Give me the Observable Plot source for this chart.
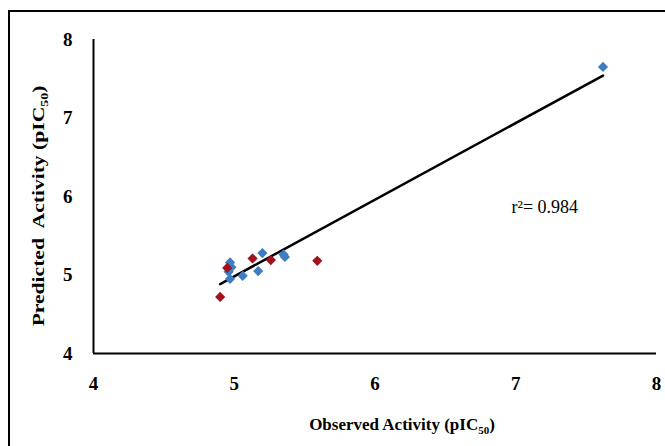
<!DOCTYPE html>
<html>
<head>
<meta charset="utf-8">
<script src="https://cdn.jsdelivr.net/npm/d3@7"></script>
<script src="https://cdn.jsdelivr.net/npm/@observablehq/plot@0.6"></script>
<style>
  html, body { margin: 0; padding: 0; background: #fff; }
  #wrap { position: relative; width: 665px; height: 446px; overflow: hidden; }
  #frame { position: absolute; left: 8px; top: 10px; width: 700px; height: 500px;
           border-left: 2px solid #000; border-top: 2px solid #000; box-sizing: border-box; }
  #chart { position: absolute; left: 0; top: 0; }
</style>
</head>
<body>
<div id="wrap"><div id="frame"></div><div id="chart"></div></div>
<script>
// Training set (blue)
const trainObserved  = [4.97, 4.96, 4.97, 4.98, 5.06, 5.20, 5.17, 5.35, 5.36, 7.62];
const trainPredicted = [5.16, 5.04, 4.95, 5.10, 4.99, 5.28, 5.05, 5.26, 5.23, 7.65];
// Test set (red)
const testObserved   = [4.90, 4.95, 5.13, 5.26, 5.59];
const testPredicted  = [4.72, 5.09, 5.21, 5.19, 5.18];
// Axis ticks
const xTicks = [4, 5, 6, 7, 8];
const yTicks = [4, 5, 6, 7, 8];
// Annotation
const r2Label = "r\u00B2= 0.984";
const r2Pos = {x: 6.97, y: 5.86};

const train = trainObserved.map((x, i) => ({x, y: trainPredicted[i], set: "train"}));
const test = testObserved.map((x, i) => ({x, y: testPredicted[i], set: "test"}));
const all = train.concat(test);

const serif = "'Liberation Serif', 'Times New Roman', serif";

const plot = Plot.plot({
  width: 665,
  height: 446,
  marginLeft: 93,
  marginRight: 9,
  marginTop: 39,
  marginBottom: 93,
  style: {fontFamily: serif, background: "transparent"},
  x: {domain: [4, 8], ticks: xTicks, label: null},
  y: {domain: [4, 8], ticks: yTicks, label: null},
  marks: [
    Plot.axisX({ticks: xTicks, tickFormat: "d", tickSize: 0, tickPadding: 23, fontSize: 19, fontWeight: "bold", label: null}),
    Plot.axisY({ticks: yTicks, tickFormat: "d", tickSize: 0, tickPadding: 21, fontSize: 19, fontWeight: "bold", label: null}),
    Plot.ruleX([4], {stroke: "#000", strokeWidth: 2}),
    Plot.ruleY([4], {stroke: "#000", strokeWidth: 2}),
    Plot.linearRegressionY(all, {x: "x", y: "y", stroke: "#000", strokeWidth: 2.5, ci: 0}),
    Plot.dot(train, {x: "x", y: "y", symbol: "diamond2", r: 4.6, fill: "#3f7cc2", stroke: "none"}),
    Plot.dot(test, {x: "x", y: "y", symbol: "diamond2", r: 4.6, fill: "#a3121c", stroke: "none"}),
    Plot.text([r2Pos], {x: "x", y: "y", text: () => r2Label, textAnchor: "start", fontSize: 18, fill: "#000"})
  ]
});

document.getElementById("chart").appendChild(plot);

const svg = d3.select(plot);
// X axis title
const xt = svg.append("text")
  .attr("x", 402).attr("y", 430)
  .attr("text-anchor", "middle")
  .attr("font-family", serif).attr("font-weight", "bold").attr("font-size", 17)
  .attr("fill", "#000");
xt.append("tspan").text("Observed Activity (pIC");
xt.append("tspan").attr("font-size", 11).attr("dy", 4).text("50");
xt.append("tspan").attr("dy", -4).text(")");

// Y axis title
const yt = svg.append("text")
  .attr("transform", "translate(44,206) rotate(-90) scale(1.27,1)")
  .attr("text-anchor", "middle")
  .attr("font-family", serif).attr("font-weight", "bold").attr("font-size", 17)
  .attr("fill", "#000")
  .attr("xml:space", "preserve")
  .style("white-space", "pre");
yt.append("tspan").text("Predicted  Activity (pIC");
yt.append("tspan").attr("font-size", 11).attr("dy", 4).text("50");
yt.append("tspan").attr("dy", -4).text(")");
</script>
</body>
</html>
